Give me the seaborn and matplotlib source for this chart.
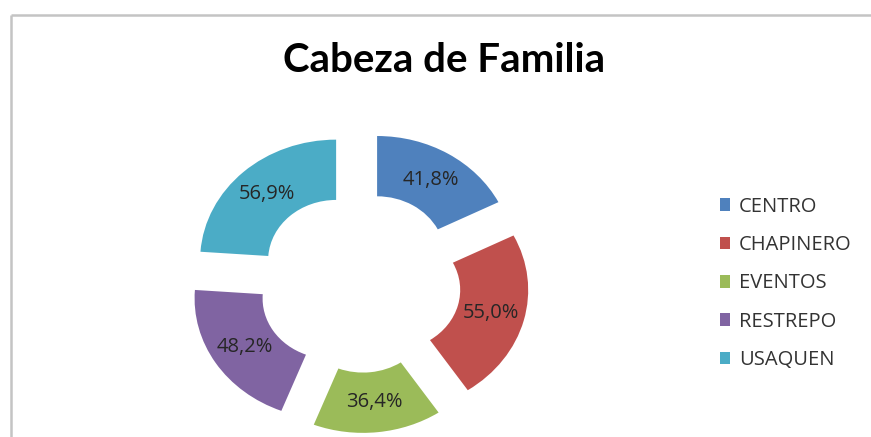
import matplotlib
matplotlib.use("Agg")
import matplotlib.pyplot as plt
from matplotlib.lines import Line2D
import seaborn as sns

# Share of heads of household per branch
categories = ["CENTRO", "CHAPINERO", "EVENTOS", "RESTREPO", "USAQUEN"]
values = [41.8, 55.0, 36.4, 48.2, 56.9]
colors = ["#4F81BD", "#C0504D", "#9BBB59", "#8064A2", "#4BACC6"]
title = "Cabeza de Familia"

sns.set_theme(style="white")
plt.rcParams["font.family"] = ["Open Sans", "DejaVu Sans"]

W, H = 871, 437
fig = plt.figure(figsize=(W / 100, H / 100), dpi=100)
fig.patch.set_facecolor("white")
ax = fig.add_axes([0, 0, 1, 1])

total = sum(values)


def fmt(p):
    return f"{p * total / 100:.1f}".replace(".", ",") + "%"


wedges, texts, autotexts = ax.pie(
    values,
    colors=colors,
    explode=[0.25] * len(values),
    startangle=90,
    counterclock=False,
    autopct=fmt,
    pctdistance=0.75,
    wedgeprops=dict(width=0.5, edgecolor="none", linewidth=0),
    textprops=dict(fontsize=14.5, color="#262626"),
)

# ring centre and scale (pixels per radius unit, horizontal / vertical)
cx, cy, sx, sy = 359.3, 282.3, 136.0, 120.6
ax.set_aspect("auto")
ax.set_xlim(-cx / sx, (W - cx) / sx)
ax.set_ylim(-(H - cy) / sy, cy / sy)
ax.axis("off")

fig.text(444 / W, 1 - 72 / H, title, fontsize=29, fontweight="bold",
         family=["Lato", "DejaVu Sans"], ha="center", va="baseline",
         color="black")

fig.legend(wedges, categories, loc="center left",
           bbox_to_anchor=(720 / W, 1 - 283.5 / H),
           frameon=False, fontsize=14.5, labelcolor="#333333",
           handlelength=0.5, handleheight=0.6, handletextpad=0.45,
           labelspacing=0.91, borderpad=0, borderaxespad=0)

# chart area border (top and left edges)
frame_kw = dict(transform=fig.transFigure, color="#c4c4c4", lw=1.8,
                solid_capstyle="butt")
fig.add_artist(Line2D([10.5 / W, 10.5 / W], [0, 1 - 15 / H], **frame_kw))
fig.add_artist(Line2D([10.5 / W, 1], [1 - 15 / H, 1 - 15 / H], **frame_kw))

fig.savefig("out.png", dpi=100, facecolor="white")
